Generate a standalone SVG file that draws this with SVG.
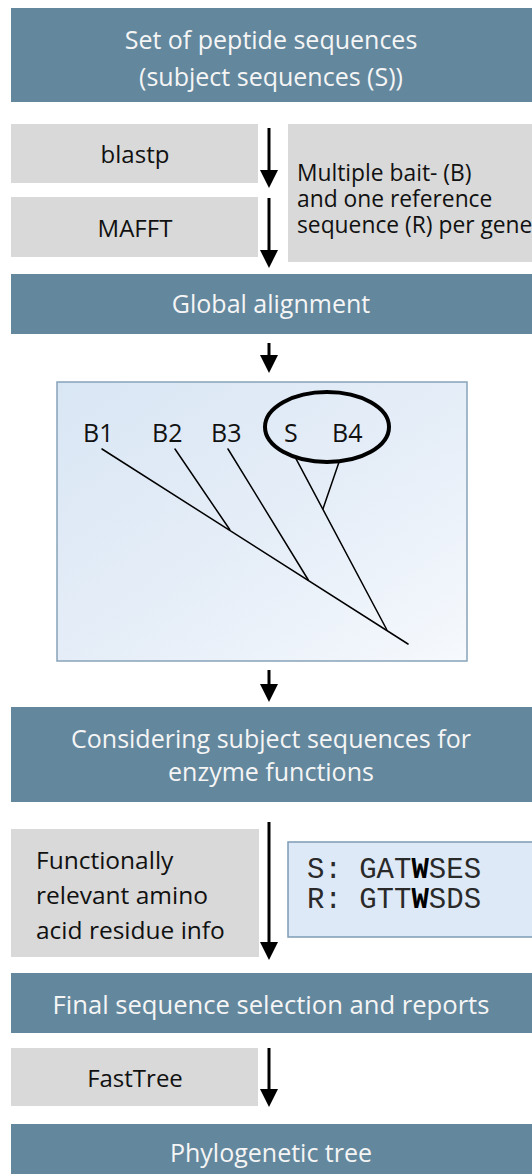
<svg xmlns="http://www.w3.org/2000/svg" width="532" height="1174" viewBox="0 0 532 1174">
  <defs>
    <style>
      .banner { fill: #63879d; }
      .bt { font-family: "Open Sans", "Liberation Sans", sans-serif; font-size: 25px; fill: #f5f5f5; text-anchor: middle; }
      .grey { fill: #d9d9d9; }
      .gt { font-family: "Open Sans", "Liberation Sans", sans-serif; font-size: 24px; fill: #111; }
      .rt { font-family: "Open Sans", "Liberation Sans", sans-serif; font-size: 22.8px; fill: #111; }
      .mid { text-anchor: middle; }
      .tl { font-family: "Open Sans", "Liberation Sans", sans-serif; font-size: 25px; fill: #111; }
      .mono { font-family: "Liberation Mono", "Courier New", monospace; font-size: 29px; fill: #2a2a2a; }
      .shaft { stroke: #000; stroke-width: 3; fill: none; }
      .head { fill: #000; }
      .branch { stroke: #000; stroke-width: 1.5; fill: none; stroke-linecap: round; }
    </style>
    <linearGradient id="panelGrad" x1="0" y1="0" x2="1" y2="1">
      <stop offset="0" stop-color="#d9e6f4"/>
      <stop offset="0.55" stop-color="#e6eef8"/>
      <stop offset="1" stop-color="#f6f9fd"/>
    </linearGradient>
  </defs>

  <g id="node-subjects">
    <rect class="banner" x="11" y="8" width="521" height="94"/>
    <text class="bt" x="271" y="49">Set of peptide sequences</text>
    <text class="bt" x="271" y="86">(subject sequences (S))</text>
  </g>

  <g id="node-blastp">
    <rect class="grey" x="11" y="124" width="247" height="59"/>
    <text class="gt mid" x="135" y="163">blastp</text>
  </g>

  <g id="node-mafft">
    <rect class="grey" x="11" y="197" width="247" height="60"/>
    <text class="gt mid" x="135" y="237">MAFFT</text>
  </g>

  <g id="node-baits">
    <rect class="grey" x="288" y="124" width="244" height="138"/>
    <text class="rt" x="297" y="181">Multiple bait- (B)</text>
    <text class="rt" x="297" y="207">and one reference</text>
    <text class="rt" x="297" y="233">sequence (R) per gene</text>
  </g>

  <g id="node-global">
    <rect class="banner" x="11" y="274" width="521" height="60"/>
    <text class="bt" x="271" y="313">Global alignment</text>
  </g>

  <g id="node-tree-panel">
    <rect x="57" y="382" width="410" height="279" fill="url(#panelGrad)" stroke="#87a3b9" stroke-width="1.5"/>
    <text class="tl" x="83" y="442">B1</text>
    <text class="tl" x="152" y="442">B2</text>
    <text class="tl" x="211" y="442">B3</text>
    <text class="tl" x="284" y="442">S</text>
    <text class="tl" x="332" y="442">B4</text>
    <ellipse cx="327" cy="427" rx="62" ry="35" fill="none" stroke="#000" stroke-width="4"/>
    <line class="branch" x1="102" y1="449" x2="408" y2="644"/>
    <line class="branch" x1="175" y1="449" x2="229.7" y2="529.5"/>
    <line class="branch" x1="228" y1="449" x2="308.3" y2="580"/>
    <line class="branch" x1="295.8" y1="458.3" x2="386.7" y2="629.5"/>
    <line class="branch" x1="338.7" y1="463" x2="323" y2="508.7"/>
  </g>

  <g id="node-considering">
    <rect class="banner" x="11" y="707" width="521" height="95"/>
    <text class="bt" x="271" y="748">Considering subject sequences for</text>
    <text class="bt" x="271" y="781">enzyme functions</text>
  </g>

  <g id="node-functional">
    <rect class="grey" x="11" y="829" width="248" height="128"/>
    <text class="gt" x="36" y="869" style="font-size:24.5px">Functionally</text>
    <text class="gt" x="36" y="904" style="font-size:24.5px">relevant amino</text>
    <text class="gt" x="36" y="939" style="font-size:24.5px">acid residue info</text>
  </g>

  <g id="node-residues">
    <rect x="288" y="842" width="250" height="95" fill="#dde9f6" stroke="#7d9bb4" stroke-width="1.5"/>
    <text class="mono" x="307" y="878" xml:space="preserve">S: GAT<tspan font-weight="bold" fill="#000">W</tspan>SES</text>
    <text class="mono" x="307" y="908" xml:space="preserve">R: GTT<tspan font-weight="bold" fill="#000">W</tspan>SDS</text>
  </g>

  <g id="node-final">
    <rect class="banner" x="11" y="973" width="521" height="60"/>
    <text class="bt" x="271" y="1014" style="font-size:25.6px">Final sequence selection and reports</text>
  </g>

  <g id="node-fasttree">
    <rect class="grey" x="11" y="1048" width="247" height="58"/>
    <text class="gt mid" x="135" y="1087">FastTree</text>
  </g>

  <g id="node-phylo">
    <rect class="banner" x="11" y="1124" width="521" height="60"/>
    <text class="bt" x="271" y="1162">Phylogenetic tree</text>
  </g>

  <g id="connectors">
    <line class="shaft" x1="269" y1="128" x2="269" y2="172"/>
    <polygon class="head" points="260,170 278,170 269,188"/>
    <line class="shaft" x1="269" y1="198" x2="269" y2="252"/>
    <polygon class="head" points="260,250 278,250 269,268"/>
    <line class="shaft" x1="269" y1="343" x2="269" y2="357"/>
    <polygon class="head" points="260,355 278,355 269,373"/>
    <line class="shaft" x1="269" y1="670" x2="269" y2="686"/>
    <polygon class="head" points="260,684 278,684 269,702"/>
    <line class="shaft" x1="269" y1="822" x2="269" y2="944"/>
    <polygon class="head" points="260,942 278,942 269,960"/>
    <line class="shaft" x1="269" y1="1048" x2="269" y2="1091"/>
    <polygon class="head" points="260,1089 278,1089 269,1107"/>
  </g>
</svg>
